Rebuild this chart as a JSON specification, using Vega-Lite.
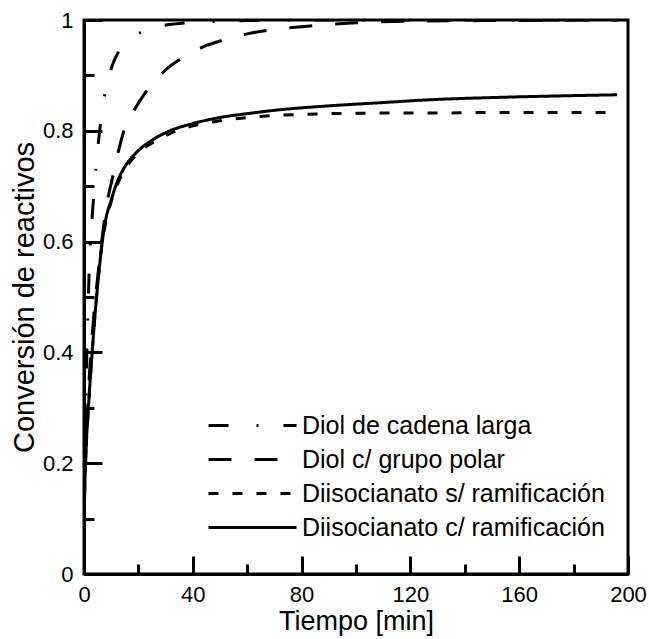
{
  "$schema": "https://vega.github.io/schema/vega-lite/v6.json",
  "width": 544,
  "height": 554,
  "autosize": {"type": "none"},
  "padding": {"left": 84, "top": 20, "right": 21, "bottom": 65},
  "background": "white",
  "config": {
    "font": "Liberation Sans",
    "view": {"stroke": "black", "strokeWidth": 3}
  },
  "datasets": {
    "curvas": [
      {"serie": "Diol de cadena larga", "t": 0, "conv": 0.10},
      {"serie": "Diol de cadena larga", "t": 0.5, "conv": 0.27},
      {"serie": "Diol de cadena larga", "t": 1, "conv": 0.39},
      {"serie": "Diol de cadena larga", "t": 1.5, "conv": 0.48},
      {"serie": "Diol de cadena larga", "t": 2, "conv": 0.56},
      {"serie": "Diol de cadena larga", "t": 2.5, "conv": 0.61},
      {"serie": "Diol de cadena larga", "t": 3, "conv": 0.645},
      {"serie": "Diol de cadena larga", "t": 4, "conv": 0.71},
      {"serie": "Diol de cadena larga", "t": 5, "conv": 0.765},
      {"serie": "Diol de cadena larga", "t": 6.6, "conv": 0.834},
      {"serie": "Diol de cadena larga", "t": 8.4, "conv": 0.883},
      {"serie": "Diol de cadena larga", "t": 10.7, "conv": 0.922},
      {"serie": "Diol de cadena larga", "t": 13, "conv": 0.945},
      {"serie": "Diol de cadena larga", "t": 17, "conv": 0.966},
      {"serie": "Diol de cadena larga", "t": 21, "conv": 0.978},
      {"serie": "Diol de cadena larga", "t": 25.4, "conv": 0.986},
      {"serie": "Diol de cadena larga", "t": 33.5, "conv": 0.993},
      {"serie": "Diol de cadena larga", "t": 45, "conv": 0.997},
      {"serie": "Diol de cadena larga", "t": 60, "conv": 0.999},
      {"serie": "Diol de cadena larga", "t": 80, "conv": 1.0},
      {"serie": "Diol de cadena larga", "t": 120, "conv": 1.0},
      {"serie": "Diol de cadena larga", "t": 160, "conv": 1.0},
      {"serie": "Diol de cadena larga", "t": 196, "conv": 1.0},

      {"serie": "Diol c/ grupo polar", "t": 0, "conv": 0.10},
      {"serie": "Diol c/ grupo polar", "t": 0.5, "conv": 0.19},
      {"serie": "Diol c/ grupo polar", "t": 1, "conv": 0.26},
      {"serie": "Diol c/ grupo polar", "t": 2, "conv": 0.36},
      {"serie": "Diol c/ grupo polar", "t": 3, "conv": 0.43},
      {"serie": "Diol c/ grupo polar", "t": 4, "conv": 0.49},
      {"serie": "Diol c/ grupo polar", "t": 5, "conv": 0.535},
      {"serie": "Diol c/ grupo polar", "t": 6, "conv": 0.58},
      {"serie": "Diol c/ grupo polar", "t": 7, "conv": 0.62},
      {"serie": "Diol c/ grupo polar", "t": 8.5, "conv": 0.67},
      {"serie": "Diol c/ grupo polar", "t": 10.7, "conv": 0.72},
      {"serie": "Diol c/ grupo polar", "t": 12.5, "conv": 0.76},
      {"serie": "Diol c/ grupo polar", "t": 15, "conv": 0.805},
      {"serie": "Diol c/ grupo polar", "t": 18.75, "conv": 0.84},
      {"serie": "Diol c/ grupo polar", "t": 22, "conv": 0.865},
      {"serie": "Diol c/ grupo polar", "t": 25, "conv": 0.883},
      {"serie": "Diol c/ grupo polar", "t": 30, "conv": 0.91},
      {"serie": "Diol c/ grupo polar", "t": 35, "conv": 0.928},
      {"serie": "Diol c/ grupo polar", "t": 40, "conv": 0.942},
      {"serie": "Diol c/ grupo polar", "t": 45, "conv": 0.954},
      {"serie": "Diol c/ grupo polar", "t": 50, "conv": 0.962},
      {"serie": "Diol c/ grupo polar", "t": 55, "conv": 0.969},
      {"serie": "Diol c/ grupo polar", "t": 62, "conv": 0.977},
      {"serie": "Diol c/ grupo polar", "t": 72, "conv": 0.984},
      {"serie": "Diol c/ grupo polar", "t": 80, "conv": 0.988},
      {"serie": "Diol c/ grupo polar", "t": 90, "conv": 0.992},
      {"serie": "Diol c/ grupo polar", "t": 100, "conv": 0.995},
      {"serie": "Diol c/ grupo polar", "t": 120, "conv": 0.998},
      {"serie": "Diol c/ grupo polar", "t": 150, "conv": 0.999},
      {"serie": "Diol c/ grupo polar", "t": 196, "conv": 1.0},

      {"serie": "Diisocianato s/ ramificación", "t": 0, "conv": 0.10},
      {"serie": "Diisocianato s/ ramificación", "t": 0.5, "conv": 0.19},
      {"serie": "Diisocianato s/ ramificación", "t": 1, "conv": 0.25},
      {"serie": "Diisocianato s/ ramificación", "t": 1.5, "conv": 0.29},
      {"serie": "Diisocianato s/ ramificación", "t": 2, "conv": 0.33},
      {"serie": "Diisocianato s/ ramificación", "t": 3, "conv": 0.40},
      {"serie": "Diisocianato s/ ramificación", "t": 4, "conv": 0.465},
      {"serie": "Diisocianato s/ ramificación", "t": 5, "conv": 0.52},
      {"serie": "Diisocianato s/ ramificación", "t": 6.6, "conv": 0.595},
      {"serie": "Diisocianato s/ ramificación", "t": 8, "conv": 0.635},
      {"serie": "Diisocianato s/ ramificación", "t": 10, "conv": 0.672},
      {"serie": "Diisocianato s/ ramificación", "t": 12, "conv": 0.70},
      {"serie": "Diisocianato s/ ramificación", "t": 15, "conv": 0.73},
      {"serie": "Diisocianato s/ ramificación", "t": 19.5, "conv": 0.758},
      {"serie": "Diisocianato s/ ramificación", "t": 25, "conv": 0.778},
      {"serie": "Diisocianato s/ ramificación", "t": 31.6, "conv": 0.795},
      {"serie": "Diisocianato s/ ramificación", "t": 40, "conv": 0.809},
      {"serie": "Diisocianato s/ ramificación", "t": 50, "conv": 0.818},
      {"serie": "Diisocianato s/ ramificación", "t": 60, "conv": 0.824},
      {"serie": "Diisocianato s/ ramificación", "t": 72, "conv": 0.828},
      {"serie": "Diisocianato s/ ramificación", "t": 90, "conv": 0.831},
      {"serie": "Diisocianato s/ ramificación", "t": 110, "conv": 0.832},
      {"serie": "Diisocianato s/ ramificación", "t": 127, "conv": 0.832},
      {"serie": "Diisocianato s/ ramificación", "t": 150, "conv": 0.833},
      {"serie": "Diisocianato s/ ramificación", "t": 175, "conv": 0.833},
      {"serie": "Diisocianato s/ ramificación", "t": 196, "conv": 0.833},

      {"serie": "Diisocianato c/ ramificación", "t": 0, "conv": 0.10},
      {"serie": "Diisocianato c/ ramificación", "t": 0.5, "conv": 0.19},
      {"serie": "Diisocianato c/ ramificación", "t": 1, "conv": 0.25},
      {"serie": "Diisocianato c/ ramificación", "t": 1.5, "conv": 0.29},
      {"serie": "Diisocianato c/ ramificación", "t": 2, "conv": 0.33},
      {"serie": "Diisocianato c/ ramificación", "t": 3, "conv": 0.40},
      {"serie": "Diisocianato c/ ramificación", "t": 4, "conv": 0.465},
      {"serie": "Diisocianato c/ ramificación", "t": 5, "conv": 0.52},
      {"serie": "Diisocianato c/ ramificación", "t": 6.6, "conv": 0.595},
      {"serie": "Diisocianato c/ ramificación", "t": 8, "conv": 0.64},
      {"serie": "Diisocianato c/ ramificación", "t": 10, "conv": 0.675},
      {"serie": "Diisocianato c/ ramificación", "t": 12, "conv": 0.705},
      {"serie": "Diisocianato c/ ramificación", "t": 15, "conv": 0.735},
      {"serie": "Diisocianato c/ ramificación", "t": 19.5, "conv": 0.762},
      {"serie": "Diisocianato c/ ramificación", "t": 25, "conv": 0.783},
      {"serie": "Diisocianato c/ ramificación", "t": 31.6, "conv": 0.80},
      {"serie": "Diisocianato c/ ramificación", "t": 40, "conv": 0.813},
      {"serie": "Diisocianato c/ ramificación", "t": 50, "conv": 0.824},
      {"serie": "Diisocianato c/ ramificación", "t": 60, "conv": 0.831},
      {"serie": "Diisocianato c/ ramificación", "t": 72, "conv": 0.838},
      {"serie": "Diisocianato c/ ramificación", "t": 90, "conv": 0.845},
      {"serie": "Diisocianato c/ ramificación", "t": 110, "conv": 0.851},
      {"serie": "Diisocianato c/ ramificación", "t": 127, "conv": 0.856},
      {"serie": "Diisocianato c/ ramificación", "t": 150, "conv": 0.86},
      {"serie": "Diisocianato c/ ramificación", "t": 175, "conv": 0.863},
      {"serie": "Diisocianato c/ ramificación", "t": 196, "conv": 0.865}
    ]
  },
  "data": {"name": "curvas"},
  "mark": {"type": "line", "color": "black", "strokeWidth": 3, "interpolate": "monotone", "clip": true},
  "encoding": {
    "x": {
      "field": "t",
      "type": "quantitative",
      "scale": {"domain": [0, 200], "nice": false, "zero": false},
      "axis": {
        "values": [0, 20, 40, 60, 80, 100, 120, 140, 160, 180, 200],
        "labelExpr": "datum.value % 40 === 0 ? datum.label : ''",
        "tickSize": {"condition": {"test": "datum.value % 40 === 0", "value": -18}, "value": -10},
        "tickWidth": 3,
        "tickColor": "black",
        "domainColor": "black",
        "domainWidth": 3,
        "grid": false,
        "labelFontSize": 22,
        "labelColor": "black",
        "labelPadding": 28,
        "labelFlush": false,
        "labelOverlap": false,
        "title": "Tiempo [min]",
        "titleFontSize": 27,
        "titleFontWeight": "normal",
        "titleColor": "black",
        "titlePadding": -5
      }
    },
    "y": {
      "field": "conv",
      "type": "quantitative",
      "scale": {"domain": [0, 1], "nice": false},
      "axis": {
        "values": [0, 0.1, 0.2, 0.3, 0.4, 0.5, 0.6, 0.7, 0.8, 0.9, 1],
        "labelExpr": "round(datum.value * 10) % 2 === 0 ? format(datum.value, '~g') : ''",
        "tickSize": {"condition": {"test": "round(datum.value * 10) % 2 === 0", "value": -18}, "value": -10},
        "tickWidth": 3,
        "tickColor": "black",
        "domainColor": "black",
        "domainWidth": 3,
        "grid": false,
        "labelFontSize": 22,
        "labelColor": "black",
        "labelPadding": 29,
        "labelFlush": false,
        "labelOverlap": false,
        "title": "Conversión de reactivos",
        "titleFontSize": 29,
        "titleFontWeight": "normal",
        "titleColor": "black",
        "titlePadding": 3
      }
    },
    "strokeDash": {
      "field": "serie",
      "type": "nominal",
      "scale": {
        "domain": ["Diol de cadena larga", "Diol c/ grupo polar", "Diisocianato s/ ramificación", "Diisocianato c/ ramificación"],
        "range": [[20, 28, 2, 25], [23, 23], [10, 14], [1, 0]]
      },
      "legend": {
        "orient": "none",
        "legendX": 123,
        "legendY": 393,
        "title": null,
        "padding": 0,
        "symbolType": "stroke",
        "symbolSize": 7744,
        "symbolStrokeWidth": 3,
        "symbolStrokeColor": "black",
        "symbolOffset": 0,
        "clipHeight": 25,
        "rowPadding": 8,
        "labelFontSize": 25,
        "labelColor": "black",
        "labelOffset": 4,
        "labelLimit": 400
      }
    }
  }
}
